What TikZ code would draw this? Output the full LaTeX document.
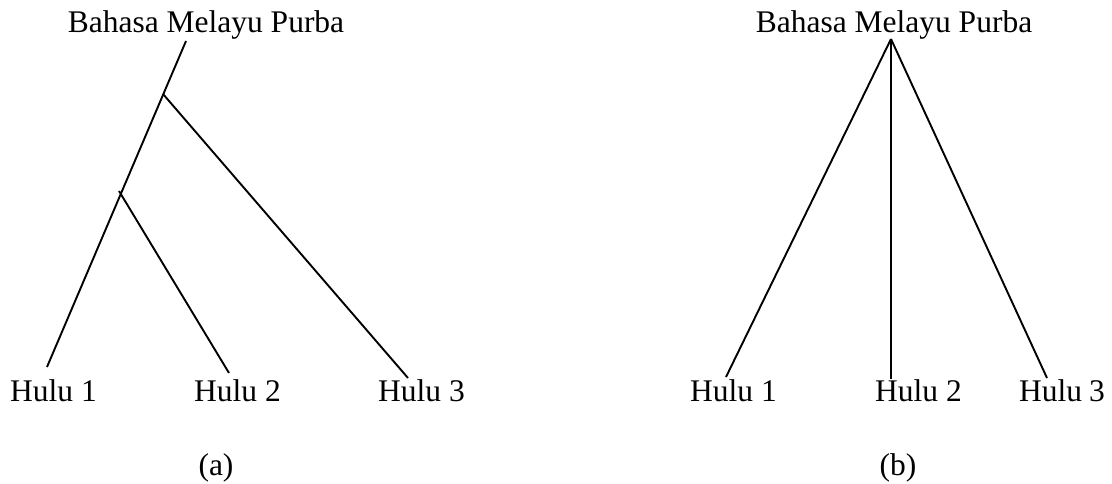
\documentclass[tikz,border=0pt]{standalone}
\usepackage{fontspec}
\setmainfont{Liberation Serif}
\begin{document}
\begin{tikzpicture}[x=1pt,y=-1pt,
  lbl/.style={inner sep=0pt,anchor=base,font=\fontsize{31.5}{36}\selectfont},
  branch/.style={line width=1.9pt,line cap=butt}]
\useasboundingbox (0,0) rectangle (1112,484);

% ---- tree (a): nested split ----
\node[lbl] (ra) at (206,33) {Bahasa Melayu Purba};
\node[lbl,anchor=base west] (a1) at (10,401) {Hulu 1};
\node[lbl,anchor=base west] (a2) at (194,401) {Hulu 2};
\node[lbl,anchor=base west] (a3) at (378,401) {Hulu 3};
\node[lbl] (capa) at (216,475) {(a)};

\coordinate (atop) at (186,41);
\coordinate (aend1) at (47,367);
\coordinate (asplit1) at (163,94);
\coordinate (aend3) at (408,378);
\coordinate (asplit2) at (119,191);
\coordinate (aend2) at (229,373);

\draw[branch] (atop) -- (aend1);
\draw[branch] (asplit1) -- (aend3);
\draw[branch] (asplit2) -- (aend2);

% ---- tree (b): three-way split ----
\node[lbl] (rb) at (894,33) {Bahasa Melayu Purba};
\node[lbl,anchor=base west] (b1) at (690,401) {Hulu 1};
\node[lbl,anchor=base west] (b2) at (875,401) {Hulu 2};
\node[lbl,anchor=base west] (b3) at (1019,401) {Hulu\kern-1pt\ 3};
\node[lbl] (capb) at (898,475) {(b)};

\coordinate (btop) at (891,39);
\coordinate (bend1) at (726,377);
\coordinate (bend2) at (891,379);
\coordinate (bend3) at (1047,378);

\draw[branch] (btop) -- (bend1);
\draw[branch] (btop) -- (bend2);
\draw[branch] (btop) -- (bend3);
\end{tikzpicture}
\end{document}
